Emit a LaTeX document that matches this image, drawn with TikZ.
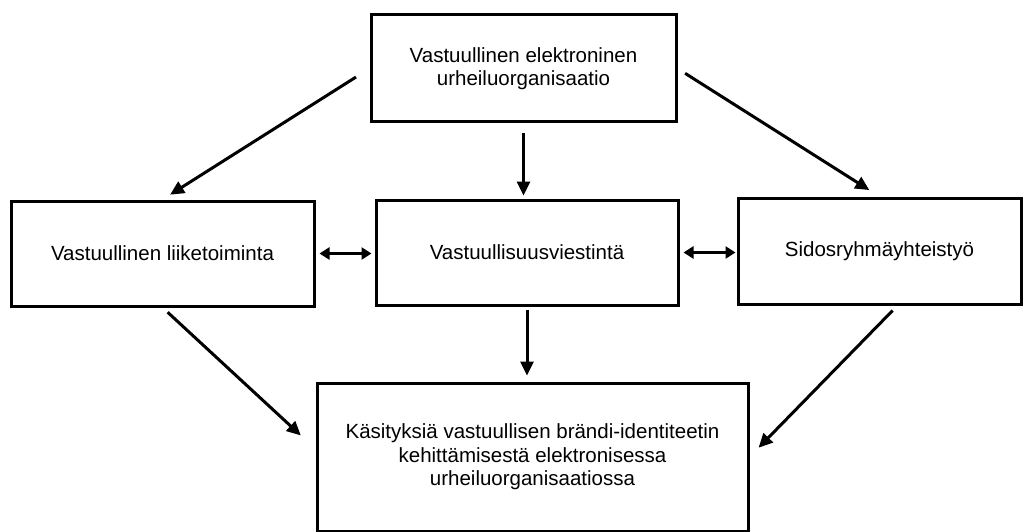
\documentclass[tikz,border=0pt]{standalone}
\usepackage{fontspec}
\setmainfont{Liberation Sans}
\usepackage{tikz}
\usetikzlibrary{arrows.meta}
\tikzset{box/.style={draw,line width=3pt,inner sep=0pt,align=center,
    font=\fontsize{20.5}{23.5}\selectfont},
    arr/.style={draw,line width=3pt,-{Triangle[length=14pt,width=13pt]}},
    dblarr/.style={draw,line width=3pt,
    {Triangle[length=10pt,width=12pt]}-{Triangle[length=10pt,width=12pt]}}}

\begin{document}
\begin{tikzpicture}[x=1pt,y=-1pt]
            \useasboundingbox (0,0) rectangle (1031,532);
            \node[box,minimum width=305pt,minimum height=107pt] (org) at (523.5,68.5)
            {Vastuullinen elektroninen\\urheiluorganisaatio};
            \node[box,minimum width=303pt,minimum height=105pt] (liike) at (162.5,253.5)
            {Vastuullinen liiketoiminta};
            \node[box,minimum width=302pt,minimum height=105pt] (viesti) at (527,252.5)
            {Vastuullisuusviestintä};
            \node[box,minimum width=283pt,minimum height=106pt] (sidos) at (879.5,251)
            {Sidosryhmäyhteistyö};
            \node[box,minimum width=431pt,minimum height=148pt] (kasitys) at (532.5,457)
            {Käsityksiä vastuullisen brändi-identiteetin\\kehittämisestä elektronisessa\\urheiluorganisaatiossa};
            \draw[arr,shorten <=16pt,shorten >=9pt] (org.west) -- (liike.north);
            \draw[arr,shorten <=10pt,shorten >=3pt] (org.south) -- (org.south |- viesti.north);
            \draw[arr,shorten <=9pt,shorten >=12pt] (org.east) -- (sidos.north);
            \draw[dblarr,shorten <=4pt,shorten >=3pt] (liike.east) -- (liike.east -| viesti.west);
            \draw[dblarr,shorten <=4pt,shorten >=1pt] (viesti.east) -- (viesti.east -| sidos.west);
            \draw[arr,shorten <=3pt,shorten >=6pt] (viesti.south) -- (viesti.south |- kasitys.north);
            \draw[arr,shorten <=7pt,shorten >=20pt] (liike.south) -- ([yshift=8pt]kasitys.west);
            \draw[arr,shorten <=7pt,shorten >=13pt] ([xshift=18pt]sidos.south) -- (kasitys.east);
        \end{tikzpicture}
\end{document}
